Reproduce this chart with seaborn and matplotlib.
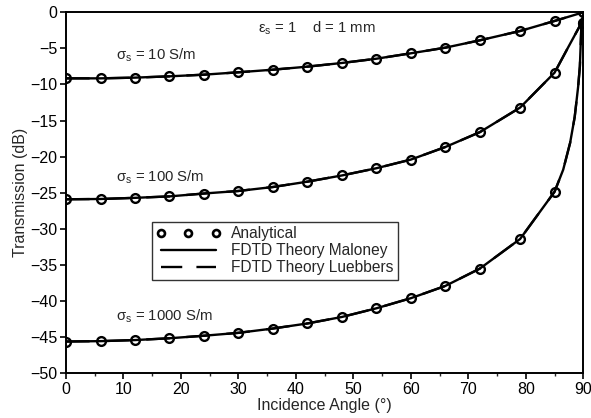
import matplotlib
matplotlib.use("Agg")
import matplotlib.pyplot as plt
import seaborn as sns
import pandas as pd
from matplotlib.ticker import MultipleLocator
from matplotlib.lines import Line2D

sns.set_theme(style="ticks")
plt.rcParams['font.family'] = ['Liberation Sans', 'DejaVu Sans']
plt.rcParams['mathtext.fontset'] = 'custom'
plt.rcParams['mathtext.rm'] = 'Liberation Sans'
plt.rcParams['mathtext.it'] = 'Liberation Sans:italic'

# Analytical points (markers)
angles = [0, 6, 12, 18, 24, 30, 36, 42, 48, 54, 60, 66, 72, 79, 85, 90]
analytic_10 = [-9.15, -9.15, -9.05, -8.87, -8.64, -8.31, -7.95, -7.53, -7.02,
               -6.43, -5.68, -4.90, -3.88, -2.59, -1.20, 0.0]
analytic_100 = [-25.9, -25.86, -25.7, -25.5, -25.1, -24.75, -24.2, -23.46, -22.6,
                -21.6, -20.4, -18.66, -16.6, -13.2, -8.36, -1.5]
analytic_1000 = [-45.6, -45.55, -45.4, -45.15, -44.8, -44.4, -43.8, -43.1, -42.2,
                 -41.0, -39.6, -37.9, -35.5, -31.4, -24.85, -1.5]

# FDTD curves
fdtd_angles_10 = [0, 6, 12, 18, 24, 30, 36, 42, 48, 54, 60, 66, 72, 79, 85, 90]
fdtd_10 = [-9.15, -9.15, -9.05, -8.87, -8.64, -8.31, -7.95, -7.53, -7.02,
           -6.43, -5.68, -4.90, -3.88, -2.59, -1.20, 0.0]
fdtd_angles_100 = [0, 6, 12, 18, 24, 30, 36, 42, 48, 54, 60, 66, 72, 79, 85, 87.4, 90]
fdtd_100 = [-25.9, -25.86, -25.7, -25.5, -25.1, -24.75, -24.2, -23.46, -22.6,
            -21.6, -20.4, -18.66, -16.6, -13.2, -8.36, -4.8, -1.0]
fdtd_angles_1000 = [0, 6, 12, 18, 24, 30, 36, 42, 48, 54, 60, 66, 72, 79, 85,
                    86.5, 87.7, 88.5, 89.1, 89.4, 89.7, 90]
fdtd_1000 = [-45.6, -45.55, -45.4, -45.15, -44.8, -44.4, -43.8, -43.1, -42.2,
             -41.0, -39.6, -37.9, -35.5, -31.4, -24.85,
             -21.8, -18.1, -14.5, -10.3, -7.5, -1.1, -0.5]

labels = ["σ$_\\mathrm{s}$ = 10 S/m", "σ$_\\mathrm{s}$ = 100 S/m", "σ$_\\mathrm{s}$ = 1000 S/m"]
label_x = [8.7, 8.7, 8.7]
label_y = [-5.9, -22.8, -42.1]

fig = plt.figure(figsize=(5.91, 4.18), dpi=100)
ax = fig.add_axes([0.1117, 0.107, 0.8753, 0.8636])

curves = [(fdtd_angles_10, fdtd_10), (fdtd_angles_100, fdtd_100), (fdtd_angles_1000, fdtd_1000)]
for xs, ys in curves:
    df = pd.DataFrame({"angle": xs, "T": ys})
    sns.lineplot(data=df, x="angle", y="T", ax=ax, color="black", lw=1.7,
                 linestyle="-", legend=False, sort=False)
    sns.lineplot(data=df, x="angle", y="T", ax=ax, color="black", lw=1.7,
                 linestyle=(0, (10, 7)), legend=False, sort=False)

for ys in [analytic_10, analytic_100, analytic_1000]:
    df = pd.DataFrame({"angle": angles, "T": ys})
    sns.lineplot(data=df, x="angle", y="T", ax=ax, color="black", lw=0,
                 marker="o", markersize=6.3, markerfacecolor="none",
                 markeredgecolor="black", markeredgewidth=1.7, legend=False)

for t, x, y in zip(labels, label_x, label_y):
    ax.text(x, y, t, fontsize=10.7, va="center", ha="left")
ax.text(33.4, -2.2, "ε$_\\mathrm{s}$ = 1    d = 1 mm", fontsize=10.7, va="center", ha="left")

ax.set_xlim(0, 90)
ax.set_ylim(-50, 0)
ax.xaxis.set_major_locator(MultipleLocator(10))
ax.xaxis.set_minor_locator(MultipleLocator(5))
ax.yaxis.set_major_locator(MultipleLocator(5))
ax.tick_params(axis="both", which="major", direction="out", length=4, width=1.2,
               labelsize=11.5, colors="black", pad=2)
ax.tick_params(axis="x", which="minor", direction="out", length=2, width=1.0)
for s in ax.spines.values():
    s.set_visible(True)
    s.set_linewidth(1.4)
    s.set_color("black")

ax.set_xlabel("Incidence Angle (°)", fontsize=11.5, labelpad=1)
ax.set_ylabel("Transmission (dB)", fontsize=11.5, labelpad=2)

handles = [
    Line2D([], [], color="black", lw=0, marker="o", markersize=5,
           markerfacecolor="none", markeredgewidth=1.9),
    Line2D([], [], color="black", lw=1.7, linestyle="-"),
    Line2D([], [], color="black", lw=1.7, linestyle=(0, (9, 6))),
]
leg = ax.legend(handles, ["Analytical", "FDTD Theory Maloney", "FDTD Theory Luebbers"],
                loc="upper left", bbox_to_anchor=(0.166, 0.42), fontsize=11.2,
                numpoints=3, handlelength=4.1, handletextpad=0.7,
                labelspacing=0.12, borderpad=0.3, fancybox=False, frameon=True,
                borderaxespad=0)
leg.get_frame().set_edgecolor("black")
leg.get_frame().set_linewidth(1.0)
ax.set_facecolor("white")

fig.savefig("out.png", dpi=100)
